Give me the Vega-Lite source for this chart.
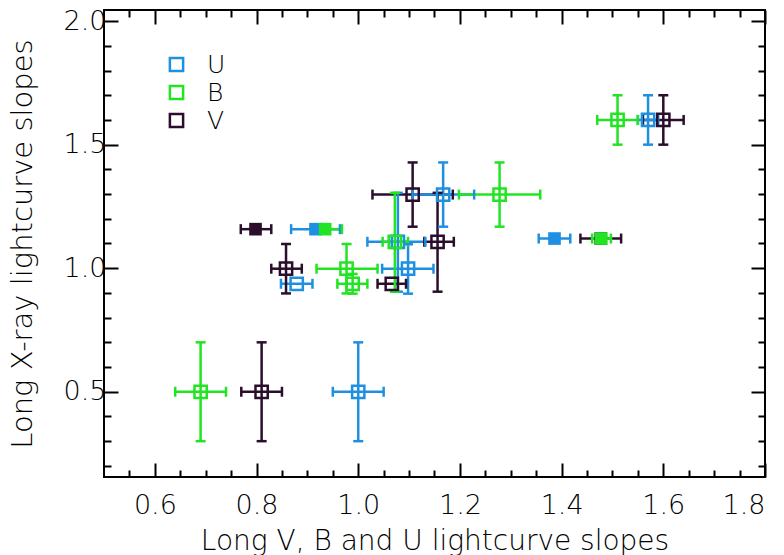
{
  "$schema": "https://vega.github.io/schema/vega-lite/v6.json",
  "width": 661,
  "height": 467,
  "autosize": {"type": "none"},
  "padding": {"left": 104, "top": 10, "right": 19, "bottom": 78},
  "background": "white",
  "config": {
    "view": {"stroke": "black", "strokeWidth": 2},
    "axis": {
      "grid": false, "domain": false, "tickColor": "black", "tickWidth": 2,
      "labelColor": "black", "labelFont": "DejaVu Sans", "labelFontSize": 27, "labelFontWeight": 200,
      "titleFont": "DejaVu Sans", "titleFontSize": 28, "titleFontWeight": 200, "titleColor": "black"
    },
    "legend": {
      "orient": "none", "legendX": 60, "legendY": 42, "padding": 0,
      "symbolType": "square", "symbolSize": 175, "symbolStrokeWidth": 2.5,
      "labelFont": "DejaVu Sans", "labelFontSize": 25, "labelFontWeight": 200, "labelColor": "black",
      "labelOffset": 18, "rowPadding": 2
    }
  },
  "data": {"values": [
    {"band": "V", "x": 0.81, "y": 0.5, "xlo": 0.77, "xhi": 0.85, "ylo": 0.3, "yhi": 0.7, "filled": false},
    {"band": "B", "x": 0.69, "y": 0.5, "xlo": 0.64, "xhi": 0.74, "ylo": 0.3, "yhi": 0.7, "filled": false},
    {"band": "U", "x": 1.0, "y": 0.5, "xlo": 0.95, "xhi": 1.05, "ylo": 0.3, "yhi": 0.7, "filled": false},
    {"band": "V", "x": 1.6, "y": 1.6, "xlo": 1.56, "xhi": 1.64, "ylo": 1.5, "yhi": 1.7, "filled": false},
    {"band": "U", "x": 1.57, "y": 1.6, "xlo": 1.55, "xhi": 1.59, "ylo": 1.5, "yhi": 1.7, "filled": false},
    {"band": "B", "x": 1.51, "y": 1.6, "xlo": 1.47, "xhi": 1.55, "ylo": 1.5, "yhi": 1.7, "filled": false},
    {"band": "V", "x": 1.107, "y": 1.298, "xlo": 1.028, "xhi": 1.186, "ylo": 1.168, "yhi": 1.428, "filled": false},
    {"band": "U", "x": 1.167, "y": 1.298, "xlo": 1.107, "xhi": 1.228, "ylo": 1.168, "yhi": 1.428, "filled": false},
    {"band": "B", "x": 1.278, "y": 1.298, "xlo": 1.198, "xhi": 1.358, "ylo": 1.168, "yhi": 1.428, "filled": false},
    {"band": "V", "x": 1.477, "y": 1.12, "xlo": 1.437, "xhi": 1.517, "ylo": null, "yhi": null, "filled": true},
    {"band": "U", "x": 1.386, "y": 1.12, "xlo": 1.355, "xhi": 1.417, "ylo": null, "yhi": null, "filled": true},
    {"band": "B", "x": 1.478, "y": 1.12, "xlo": 1.46, "xhi": 1.497, "ylo": null, "yhi": null, "filled": true},
    {"band": "V", "x": 0.798, "y": 1.158, "xlo": 0.769, "xhi": 0.829, "ylo": null, "yhi": null, "filled": true},
    {"band": "U", "x": 0.916, "y": 1.158, "xlo": 0.868, "xhi": 0.964, "ylo": null, "yhi": null, "filled": true},
    {"band": "B", "x": 0.935, "y": 1.158, "xlo": 0.907, "xhi": 0.968, "ylo": null, "yhi": null, "filled": true},
    {"band": "V", "x": 1.156, "y": 1.107, "xlo": 1.13, "xhi": 1.188, "ylo": 0.905, "yhi": 1.305, "filled": false},
    {"band": "U", "x": 1.078, "y": 1.107, "xlo": 1.018, "xhi": 1.132, "ylo": 0.905, "yhi": 1.305, "filled": false},
    {"band": "B", "x": 1.072, "y": 1.107, "xlo": 1.048, "xhi": 1.098, "ylo": 0.905, "yhi": 1.305, "filled": false},
    {"band": "V", "x": 0.858, "y": 0.998, "xlo": 0.829, "xhi": 0.889, "ylo": 0.898, "yhi": 1.098, "filled": false},
    {"band": "B", "x": 0.977, "y": 0.998, "xlo": 0.918, "xhi": 1.038, "ylo": 0.898, "yhi": 1.098, "filled": false},
    {"band": "U", "x": 1.098, "y": 0.998, "xlo": 1.047, "xhi": 1.148, "ylo": 0.897, "yhi": 1.097, "filled": false},
    {"band": "U", "x": 0.879, "y": 0.937, "xlo": 0.848, "xhi": 0.91, "ylo": null, "yhi": null, "filled": false},
    {"band": "B", "x": 0.989, "y": 0.937, "xlo": 0.959, "xhi": 1.018, "ylo": 0.897, "yhi": 0.977, "filled": false},
    {"band": "V", "x": 1.066, "y": 0.937, "xlo": 1.038, "xhi": 1.094, "ylo": null, "yhi": null, "filled": false}
  ]},
  "layer": [
    {
      "mark": {"type": "rule", "strokeWidth": 2.5},
      "encoding": {
        "x": {"field": "xlo", "type": "quantitative", "scale": {"domain": [0.5, 1.8], "nice": false, "zero": false},
              "axis": {"orient": "bottom", "values": [0.6, 0.8, 1.0, 1.2, 1.4, 1.6, 1.8], "format": ".1f", "tickSize": -14, "labelPadding": 29, "title": "Long V, B and U lightcurve slopes", "titlePadding": 9}},
        "x2": {"field": "xhi"},
        "y": {"field": "y", "type": "quantitative", "scale": {"domain": [0.155, 2.045], "nice": false, "zero": false},
              "axis": {"orient": "left", "values": [0.5, 1.0, 1.5, 2.0], "format": ".1f", "tickSize": -14, "labelPadding": 12, "title": "Long X-ray lightcurve slopes", "titleFontSize": 29, "titlePadding": 26}},
        "stroke": {"field": "band", "type": "nominal", "scale": {"range": ["#22E422", "#1E8FE1", "#2A0E2C"]}, "legend": null}
      }
    },
    {
      "transform": [{"filter": "isValid(datum.ylo)"}],
      "mark": {"type": "rule", "strokeWidth": 2.5},
      "encoding": {
        "x": {"field": "x", "type": "quantitative", "axis": {"orient": "top", "values": [0.6, 0.8, 1.0, 1.2, 1.4, 1.6, 1.8], "tickSize": -14, "labels": false, "title": null}},
        "y": {"field": "ylo", "type": "quantitative", "axis": {"orient": "right", "values": [0.5, 1.0, 1.5, 2.0], "tickSize": -14, "labels": false, "title": null}},
        "y2": {"field": "yhi"},
        "stroke": {"field": "band", "type": "nominal", "legend": null}
      }
    },
    {
      "mark": {"type": "tick", "orient": "vertical", "size": 10, "thickness": 2.5, "opacity": 1},
      "encoding": {
        "x": {"field": "xlo", "type": "quantitative", "axis": {"orient": "bottom", "values": [0.55, 0.65, 0.7, 0.75, 0.85, 0.9, 0.95, 1.05, 1.1, 1.15, 1.25, 1.3, 1.35, 1.45, 1.5, 1.55, 1.65, 1.7, 1.75], "tickSize": -7, "labels": false, "title": null}},
        "y": {"field": "y", "type": "quantitative", "axis": {"orient": "left", "values": [0.2, 0.3, 0.4, 0.6, 0.7, 0.8, 0.9, 1.1, 1.2, 1.3, 1.4, 1.6, 1.7, 1.8, 1.9], "tickSize": -7, "labels": false, "title": null}},
        "fill": {"field": "band", "type": "nominal", "scale": {"range": ["#22E422", "#1E8FE1", "#2A0E2C"]}, "legend": null}
      }
    },
    {
      "mark": {"type": "tick", "orient": "vertical", "size": 10, "thickness": 2.5, "opacity": 1},
      "encoding": {
        "x": {"field": "xhi", "type": "quantitative", "axis": {"orient": "top", "values": [0.55, 0.65, 0.7, 0.75, 0.85, 0.9, 0.95, 1.05, 1.1, 1.15, 1.25, 1.3, 1.35, 1.45, 1.5, 1.55, 1.65, 1.7, 1.75], "tickSize": -7, "labels": false, "title": null}},
        "y": {"field": "y", "type": "quantitative", "axis": {"orient": "right", "values": [0.2, 0.3, 0.4, 0.6, 0.7, 0.8, 0.9, 1.1, 1.2, 1.3, 1.4, 1.6, 1.7, 1.8, 1.9], "tickSize": -7, "labels": false, "title": null}},
        "fill": {"field": "band", "type": "nominal", "legend": null}
      }
    },
    {
      "transform": [{"filter": "isValid(datum.ylo)"}],
      "mark": {"type": "tick", "orient": "horizontal", "size": 10, "thickness": 2.5, "opacity": 1},
      "encoding": {
        "x": {"field": "x", "type": "quantitative", "axis": null},
        "y": {"field": "ylo", "type": "quantitative", "axis": null},
        "fill": {"field": "band", "type": "nominal", "legend": null}
      }
    },
    {
      "transform": [{"filter": "isValid(datum.yhi)"}],
      "mark": {"type": "tick", "orient": "horizontal", "size": 10, "thickness": 2.5, "opacity": 1},
      "encoding": {
        "x": {"field": "x", "type": "quantitative", "axis": null},
        "y": {"field": "yhi", "type": "quantitative", "axis": null},
        "fill": {"field": "band", "type": "nominal", "legend": null}
      }
    },
    {
      "transform": [{"filter": "!datum.filled"}],
      "mark": {"type": "point", "shape": "square", "filled": false, "size": 150, "strokeWidth": 2.5, "opacity": 1},
      "encoding": {
        "x": {"field": "x", "type": "quantitative", "axis": null},
        "y": {"field": "y", "type": "quantitative", "axis": null},
        "color": {"field": "band", "type": "nominal", "scale": {"domain": ["U", "B", "V"], "range": ["#1E8FE1", "#22E422", "#2A0E2C"]}, "legend": {"title": null}}
      }
    },
    {
      "transform": [{"filter": "datum.filled"}],
      "mark": {"type": "point", "shape": "square", "filled": true, "size": 160, "opacity": 1},
      "encoding": {
        "x": {"field": "x", "type": "quantitative", "axis": null},
        "y": {"field": "y", "type": "quantitative", "axis": null},
        "fill": {"field": "band", "type": "nominal", "legend": null}
      }
    }
  ]
}
